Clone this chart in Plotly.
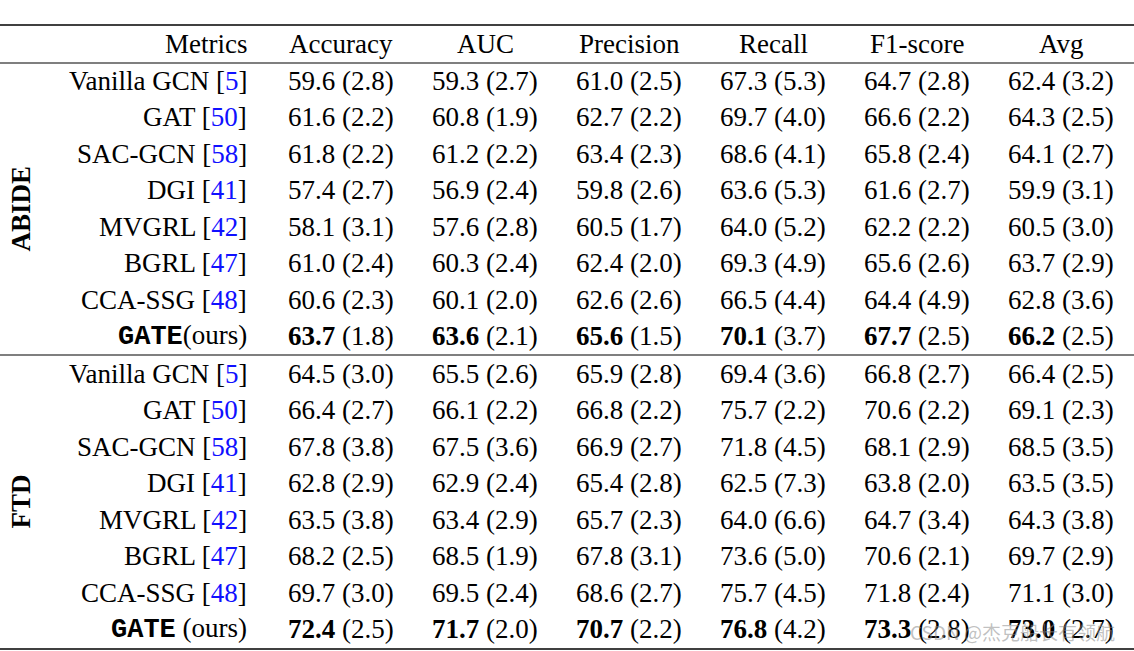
import plotly.graph_objects as go

# ---- data ----
metrics = ["Accuracy", "AUC", "Precision", "Recall", "F1-score", "Avg"]
methods = ["Vanilla GCN", "GAT", "SAC-GCN", "DGI", "MVGRL", "BGRL", "CCA-SSG", "GATE"]
refs = ["5", "50", "58", "41", "42", "47", "48", None]
datasets = ["ABIDE", "FTD"]

abide_mean = [
    [59.6, 59.3, 61.0, 67.3, 64.7, 62.4],
    [61.6, 60.8, 62.7, 69.7, 66.6, 64.3],
    [61.8, 61.2, 63.4, 68.6, 65.8, 64.1],
    [57.4, 56.9, 59.8, 63.6, 61.6, 59.9],
    [58.1, 57.6, 60.5, 64.0, 62.2, 60.5],
    [61.0, 60.3, 62.4, 69.3, 65.6, 63.7],
    [60.6, 60.1, 62.6, 66.5, 64.4, 62.8],
    [63.7, 63.6, 65.6, 70.1, 67.7, 66.2],
]
abide_std = [
    [2.8, 2.7, 2.5, 5.3, 2.8, 3.2],
    [2.2, 1.9, 2.2, 4.0, 2.2, 2.5],
    [2.2, 2.2, 2.3, 4.1, 2.4, 2.7],
    [2.7, 2.4, 2.6, 5.3, 2.7, 3.1],
    [3.1, 2.8, 1.7, 5.2, 2.2, 3.0],
    [2.4, 2.4, 2.0, 4.9, 2.6, 2.9],
    [2.3, 2.0, 2.6, 4.4, 4.9, 3.6],
    [1.8, 2.1, 1.5, 3.7, 2.5, 2.5],
]
ftd_mean = [
    [64.5, 65.5, 65.9, 69.4, 66.8, 66.4],
    [66.4, 66.1, 66.8, 75.7, 70.6, 69.1],
    [67.8, 67.5, 66.9, 71.8, 68.1, 68.5],
    [62.8, 62.9, 65.4, 62.5, 63.8, 63.5],
    [63.5, 63.4, 65.7, 64.0, 64.7, 64.3],
    [68.2, 68.5, 67.8, 73.6, 70.6, 69.7],
    [69.7, 69.5, 68.6, 75.7, 71.8, 71.1],
    [72.4, 71.7, 70.7, 76.8, 73.3, 73.0],
]
ftd_std = [
    [3.0, 2.6, 2.8, 3.6, 2.7, 2.5],
    [2.7, 2.2, 2.2, 2.2, 2.2, 2.3],
    [3.8, 3.6, 2.7, 4.5, 2.9, 3.5],
    [2.9, 2.4, 2.8, 7.3, 2.0, 3.5],
    [3.8, 2.9, 2.3, 6.6, 3.4, 3.8],
    [2.5, 1.9, 3.1, 5.0, 2.1, 2.9],
    [3.0, 2.4, 2.7, 4.5, 2.4, 3.0],
    [2.5, 2.0, 2.2, 4.2, 2.8, 2.7],
]
gate_labels = ["(ours)", " (ours)"]

# ---- layout helpers ----
W, H = 1134, 651
SERIF = "Liberation Serif"
MONO = "Liberation Mono"
FS = 27
col_x = [341 + 144 * i for i in range(len(metrics))]
name_x = 249
header_y = 44
row_step = 36.43
block_y0 = [81, 374]

fig = go.Figure()
fig.add_trace(go.Scatter(x=[0, W], y=[0, H], mode="markers",
                         marker=dict(opacity=0), hoverinfo="skip", showlegend=False))

ann = []
def txt(x, y, s, anchor="center", size=FS, **kw):
    ann.append(dict(x=x, y=y, text=s, xanchor=anchor, yanchor="middle", showarrow=False,
                    font=dict(family=SERIF, size=size, color="black"), **kw))

txt(name_x, header_y, "Metrics", "right")
for m, x in zip(metrics, col_x):
    txt(x, header_y, m)

for b, (means, stds) in enumerate([(abide_mean, abide_std), (ftd_mean, ftd_std)]):
    ys = [block_y0[b] + i * row_step for i in range(len(methods))]
    for i, name in enumerate(methods):
        if refs[i]:
            label = f"{name} [<span style='color:#1010ff'>{refs[i]}</span>]"
        else:
            label = (f"<span style='font-family:{MONO}'><b>{name}</b></span>"
                     f"{gate_labels[b]}")
        txt(name_x, ys[i], label, "right")
        for j, x in enumerate(col_x):
            mv = f"{means[i][j]:.1f}"
            if i == len(methods) - 1:
                mv = f"<b>{mv}</b>"
            txt(x, ys[i], f"{mv} ({stds[i][j]:.1f})")
    # rotated dataset label
    txt(21, (ys[0] + ys[-1]) / 2, f"<b>{datasets[b]}</b>", textangle=-90)

# watermark (overlaps the last row, as in the source image)
ann.append(dict(x=1012, y=631, text="CSDN @杰克船长有领航", xanchor="center", yanchor="middle",
                showarrow=False, font=dict(family="Noto Sans CJK SC", size=19,
                                           color="rgba(140,140,140,0.55)")))

# table rules
shapes = []
for y, w in [(25, 1.6), (63, 1.2), (355, 1.2), (649, 1.6)]:
    shapes.append(dict(type="line", xref="x", yref="y", x0=0, x1=W, y0=y, y1=y,
                       line=dict(color="black", width=w)))

fig.update_layout(
    width=W, height=H, margin=dict(l=0, r=0, t=0, b=0),
    paper_bgcolor="white", plot_bgcolor="white",
    xaxis=dict(range=[0, W], visible=False, fixedrange=True),
    yaxis=dict(range=[H, 0], visible=False, fixedrange=True),
    annotations=ann, shapes=shapes, showlegend=False,
)
fig.write_html("out.html", config={"displayModeBar": False},
               post_script="document.body.style.margin='0';document.body.style.overflow='hidden';")
